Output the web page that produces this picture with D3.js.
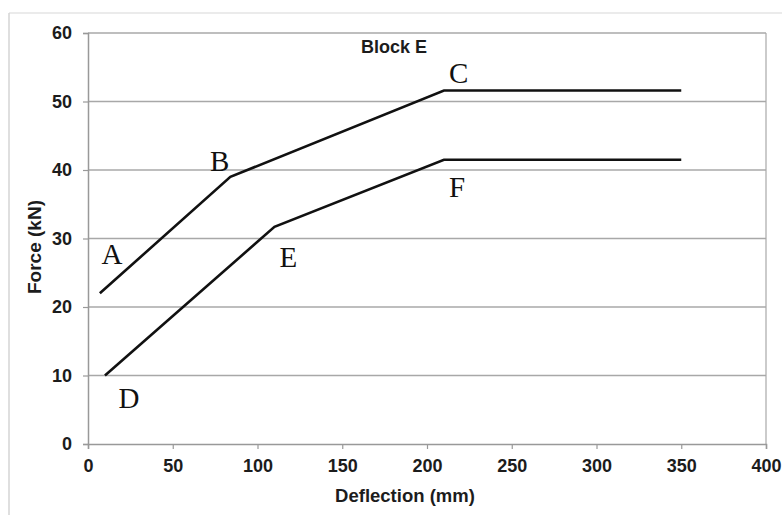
<!DOCTYPE html>
<html>
<head>
<meta charset="utf-8">
<script src="https://cdn.jsdelivr.net/npm/d3@7"></script>
<style>
  body { margin: 0; background: #fff; }
  svg { display: block; }
</style>
</head>
<body>
<div id="chart"></div>
<script>
// curve data (deflection mm, force kN)
const upperDeflection = [7, 84, 210, 350];
const upperForce = [22, 39, 51.6, 51.6];
const lowerDeflection = [10, 110, 210, 350];
const lowerForce = [10, 31.7, 41.5, 41.5];

// point letters and where they sit, in data units
const pointLabels = ["A", "B", "C", "D", "E", "F"];
const labelDeflection = [8, 72, 213, 18, 113, 213];
const labelForce = [26.3, 39.9, 52.7, 5.2, 25.8, 36.1];

const xTicks = [0, 50, 100, 150, 200, 250, 300, 350, 400];
const yTicks = [0, 10, 20, 30, 40, 50, 60];
const chartTitle = "Block E";
const xTitle = "Deflection (mm)";
const yTitle = "Force (kN)";

const W = 782, H = 515;
const margin = { top: 33, right: 16, bottom: 71, left: 88 };
const width = W - margin.left - margin.right;
const height = H - margin.top - margin.bottom;

const svg = d3.select("#chart").append("svg")
  .attr("width", W)
  .attr("height", H);

// faint outer frame of the chart area
svg.append("line").attr("x1", 9).attr("x2", W).attr("y1", 13).attr("y2", 13)
  .attr("stroke", "#e4e4e4").attr("stroke-width", 1.5);
svg.append("line").attr("x1", 9).attr("x2", 9).attr("y1", 13).attr("y2", H)
  .attr("stroke", "#d4d4d4").attr("stroke-width", 1.5);

const g = svg.append("g").attr("transform", `translate(${margin.left},${margin.top})`);

const x = d3.scaleLinear().domain([0, 400]).range([0, width]);
const y = d3.scaleLinear().domain([0, 60]).range([height, 0]);

// horizontal gridlines
g.selectAll(".grid")
  .data(yTicks.filter(d => d > 0))
  .enter().append("line")
  .attr("x1", 0).attr("x2", width)
  .attr("y1", d => y(d)).attr("y2", d => y(d))
  .attr("stroke", "#a8a8a8").attr("stroke-width", 1.5);

// plot border (right side)
g.append("line").attr("x1", width).attr("x2", width).attr("y1", 0).attr("y2", height)
  .attr("stroke", "#a8a8a8").attr("stroke-width", 1.2);

const xAxis = g.append("g")
  .attr("transform", `translate(0,${height})`)
  .call(d3.axisBottom(x).tickValues(xTicks).tickSize(5).tickPadding(10).tickFormat(d3.format("d")));
const yAxis = g.append("g")
  .call(d3.axisLeft(y).tickValues(yTicks).tickSize(5).tickPadding(11).tickFormat(d3.format("d")));

[xAxis, yAxis].forEach(a => {
  a.select(".domain").attr("stroke", "#999").attr("stroke-width", 1.5);
  a.selectAll(".tick line").attr("stroke", "#999").attr("stroke-width", 1.2);
  a.selectAll(".tick text")
    .attr("fill", "#1c1c1c")
    .style("font-family", "'Liberation Sans', Arial, sans-serif")
    .style("font-weight", "bold")
    .style("font-size", "18px");
});

const line = d3.line().x(d => x(d[0])).y(d => y(d[1]));

const series = [
  d3.zip(upperDeflection, upperForce),
  d3.zip(lowerDeflection, lowerForce)
];

g.selectAll(".curve")
  .data(series)
  .enter().append("path")
  .attr("d", line)
  .attr("fill", "none")
  .attr("stroke", "#111")
  .attr("stroke-width", 2.6);

// letters A-F
g.selectAll(".pt")
  .data(pointLabels)
  .enter().append("text")
  .attr("x", (d, i) => x(labelDeflection[i]))
  .attr("y", (d, i) => y(labelForce[i]))
  .attr("fill", "#111")
  .style("font-family", "'Liberation Serif', 'Times New Roman', serif")
  .style("font-size", "29px")
  .text(d => d);

g.append("text")
  .attr("x", 306)
  .attr("y", 20)
  .attr("text-anchor", "middle")
  .attr("fill", "#1c1c1c")
  .style("font-family", "'Liberation Sans', Arial, sans-serif")
  .style("font-weight", "bold")
  .style("font-size", "18px")
  .text(chartTitle);

svg.append("text")
  .attr("x", 405)
  .attr("y", 502)
  .attr("text-anchor", "middle")
  .attr("fill", "#1c1c1c")
  .style("font-family", "'Liberation Sans', Arial, sans-serif")
  .style("font-weight", "bold")
  .style("font-size", "18.5px")
  .text(xTitle);

svg.append("text")
  .attr("transform", "translate(41,247) rotate(-90)")
  .attr("text-anchor", "middle")
  .attr("fill", "#1c1c1c")
  .style("font-family", "'Liberation Sans', Arial, sans-serif")
  .style("font-weight", "bold")
  .style("font-size", "19px")
  .text(yTitle);
</script>
</body>
</html>
